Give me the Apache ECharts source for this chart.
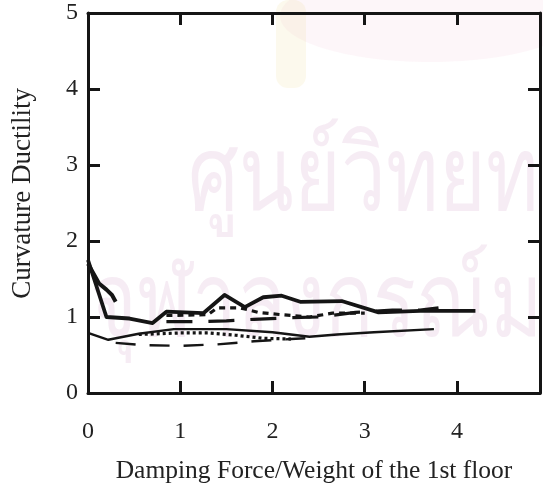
<!DOCTYPE html>
<html>
<head>
<meta charset="utf-8">
<script src="https://cdn.jsdelivr.net/npm/echarts@6/dist/echarts.min.js"></script>
<style>
  html, body { margin: 0; padding: 0; background: #ffffff; }
  #chart { width: 543px; height: 488px; }
</style>
</head>
<body>
<div id="chart"></div>
<script>
// Axis ranges and tick labels
const xTickStep = 1;
const yTicks = [0, 1, 2, 3, 4, 5];

// Curvature ductility versus damping force ratio, one array per curve: [x, y]
const upperSolid = [[0, 1.75], [0.2, 1.0], [0.45, 0.98], [0.7, 0.92], [0.85, 1.07], [1.25, 1.05],
  [1.48, 1.29], [1.7, 1.13], [1.9, 1.26], [2.1, 1.28], [2.3, 1.2], [2.75, 1.21], [3.15, 1.06],
  [3.6, 1.08], [4.2, 1.08]];
const upperHook = [[0, 1.7], [0.12, 1.44], [0.2, 1.36], [0.26, 1.29], [0.3, 1.2]];
const upperShortDash = [[0.85, 1.02], [1.3, 1.03], [1.4, 1.12], [1.65, 1.12], [1.85, 1.06],
  [2.1, 1.03], [2.4, 1.0], [2.65, 1.05], [3.0, 1.05]];
const upperLongDash = [[0.85, 0.94], [1.2, 0.94], [1.5, 0.95], [1.8, 0.97], [2.2, 0.99],
  [2.5, 1.0], [2.9, 1.06], [3.3, 1.09], [3.6, 1.09], [3.8, 1.12]];
const lowerSolid = [[0, 0.79], [0.22, 0.7], [0.55, 0.78], [0.93, 0.84], [1.5, 0.84], [2.0, 0.8],
  [2.4, 0.74], [2.7, 0.77], [3.1, 0.8], [3.75, 0.84]];
const lowerDotted = [[0.55, 0.77], [1.0, 0.79], [1.3, 0.79], [1.6, 0.76], [1.9, 0.72], [2.2, 0.71]];
const lowerLongDash = [[0.3, 0.66], [0.6, 0.63], [1.0, 0.62], [1.4, 0.64], [1.8, 0.68],
  [2.2, 0.71], [2.5, 0.73]];

const ink = '#151515';
const serif = 'Liberation Serif';
const stampColor = 'rgba(222,188,214,0.28)';

function curve(data, width, type) {
  return {
    type: 'line',
    data: data,
    symbol: 'none',
    lineStyle: { color: ink, width: width, type: type, cap: 'butt', join: 'round' },
    z: 3
  };
}

const frameAxis = {
  type: 'value',
  axisLine: { show: true, onZero: false, lineStyle: { color: ink, width: 3 } },
  axisTick: { show: true, inside: true, length: 12, lineStyle: { color: ink, width: 3 } },
  splitLine: { show: false }
};

const chart = echarts.init(document.getElementById('chart'), null, { renderer: 'canvas' });
chart.setOption({
  animation: false,
  backgroundColor: '#ffffff',
  grid: { left: 88, right: 3, top: 13, bottom: 95, containLabel: false, outerBoundsMode: 'none' },
  graphic: [
    // library seal behind the plot
    {
      type: 'ellipse', z: -6, silent: true,
      shape: { cx: 430, cy: 16, rx: 150, ry: 46 },
      style: { fill: 'rgba(245,200,215,0.16)' }
    },
    {
      type: 'rect', z: -6, silent: true,
      shape: { x: 276, y: 0, width: 30, height: 88, r: 12 },
      style: { fill: 'rgba(240,225,165,0.2)' }
    },
    {
      type: 'text', left: 188, top: 128, z: -5, silent: true, scaleY: 1.3,
      style: { text: 'ศูนย์วิทยทรัพยากร', font: '80px "Noto Sans"', fill: stampColor }
    },
    {
      type: 'text', left: 90, top: 254, z: -5, silent: true, scaleY: 1.3,
      style: { text: 'จุฬาลงกรณ์มหาวิทยาลัย', font: '80px "Noto Sans"', fill: stampColor }
    },
    {
      type: 'text', left: 9, top: 88, rotation: Math.PI / 2,
      style: { text: 'Curvature Ductility', font: '27px "Liberation Serif"', fill: '#222' }
    }
  ],
  xAxis: [
    Object.assign({}, frameAxis, {
      position: 'bottom', min: 0, max: 4.9, interval: xTickStep,
      axisLabel: { show: true, fontSize: 24, fontFamily: serif, color: '#222', margin: 27, showMaxLabel: false },
      name: 'Damping Force/Weight of the 1st floor',
      nameLocation: 'middle', nameGap: 65,
      nameTextStyle: { fontSize: 25.5, fontFamily: serif, color: '#222' }
    }),
    Object.assign({}, frameAxis, {
      position: 'top', min: 0, max: 4.9, interval: xTickStep,
      axisLabel: { show: false }
    })
  ],
  yAxis: [
    Object.assign({}, frameAxis, {
      position: 'left', min: yTicks[0], max: yTicks[yTicks.length - 1], interval: 1,
      axisLabel: { show: true, fontSize: 24, fontFamily: serif, color: '#222', margin: 10 }
    }),
    Object.assign({}, frameAxis, {
      position: 'right', min: yTicks[0], max: yTicks[yTicks.length - 1], interval: 1,
      axisLabel: { show: false }
    })
  ],
  series: [
    curve(upperSolid, 3.8, 'solid'),
    curve(upperHook, 4, 'solid'),
    curve(upperShortDash, 3.2, [6, 5]),
    curve(upperLongDash, 3.2, [26, 16]),
    curve(lowerSolid, 2.4, 'solid'),
    curve(lowerDotted, 3.2, [3, 3]),
    curve(lowerLongDash, 2.4, [20, 14])
  ]
});
</script>
</body>
</html>
